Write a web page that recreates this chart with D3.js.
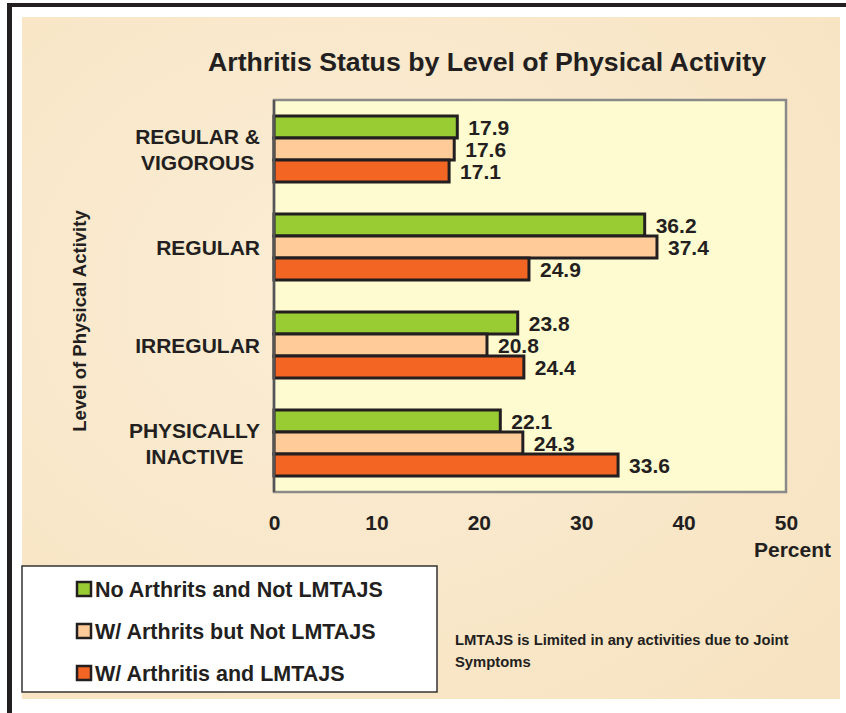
<!DOCTYPE html>
<html>
<head>
<meta charset="utf-8">
<script src="https://cdn.jsdelivr.net/npm/d3@7"></script>
<style>
  body { margin: 0; background: #fff; }
  text { font-family: "Liberation Sans", Arial, sans-serif; font-weight: bold; fill: #231f20; }
</style>
</head>
<body>
<script>
// chart data
var categories = [["REGULAR &", "VIGOROUS"], ["REGULAR"], ["IRREGULAR"], ["PHYSICALLY", "INACTIVE"]];
var series = ["No Arthrits and Not LMTAJS", "W/ Arthrits but Not LMTAJS", "W/ Arthritis and LMTAJS"];
var noArthritis = [17.9, 36.2, 23.8, 22.1];
var arthritisNotLimited = [17.6, 37.4, 20.8, 24.3];
var arthritisLimited = [17.1, 24.9, 24.4, 33.6];
var xTicks = [0, 10, 20, 30, 40, 50];
var colors = ["#99cc33", "#ffcc99", "#f26522"];

var w = 846, h = 713;
var plot = {left: 274, right: 786, top: 100, bottom: 492};

var svg = d3.select("body").append("svg")
	.attr("width", w)
	.attr("height", h);

// background
svg.append("rect").attr("x", 0).attr("y", 0).attr("width", w).attr("height", h).attr("fill", "#fff");
var defs = svg.append("defs");
var grad = defs.append("radialGradient").attr("id", "parch").attr("cx", "40%").attr("cy", "40%").attr("r", "80%");
grad.append("stop").attr("offset", "0%").attr("stop-color", "#fbedd5");
grad.append("stop").attr("offset", "100%").attr("stop-color", "#f7e3c1");
svg.append("rect")
	.attr("x", 22).attr("y", 17)
	.attr("width", 818).attr("height", 682)
	.attr("fill", "url(#parch)");

// black frame lines (top + left)
svg.append("rect").attr("x", 7).attr("y", 3).attr("width", w - 7).attr("height", 4).attr("fill", "#231f20");
svg.append("rect").attr("x", 7).attr("y", 3).attr("width", 5).attr("height", h - 3).attr("fill", "#231f20");

// title
svg.append("text")
	.attr("x", 208).attr("y", 71)
	.attr("textLength", 558)
	.attr("lengthAdjust", "spacingAndGlyphs")
	.style("font-size", "25px")
	.text("Arthritis Status by Level of Physical Activity");

// scales
var x_scale = d3.scaleLinear().domain([0, 50]).range([plot.left, plot.right]);
var y_scale = d3.scaleBand().domain(d3.range(categories.length)).range([plot.top, plot.bottom]);
var inner = d3.scaleBand().domain(d3.range(series.length)).range([16, y_scale.bandwidth() - 16]);

// plot area
svg.append("rect")
	.attr("x", plot.left).attr("y", plot.top)
	.attr("width", plot.right - plot.left).attr("height", plot.bottom - plot.top)
	.attr("fill", "#fffbd0")
	.attr("stroke", "#8a8a8a")
	.attr("stroke-width", 2.5);

var allSeries = [noArthritis, arthritisNotLimited, arthritisLimited];
var barData = [];
allSeries.forEach(function(vals, s) {
	vals.forEach(function(v, c) {
		barData.push({s: s, c: c, v: v});
	});
});

svg.selectAll("rect.bar")
	.data(barData)
	.enter()
	.append("rect")
	.attr("class", "bar")
	.attr("x", x_scale(0))
	.attr("y", function(d) { return y_scale(d.c) + inner(d.s); })
	.attr("width", function(d) { return x_scale(d.v) - x_scale(0); })
	.attr("height", inner.bandwidth())
	.attr("fill", function(d) { return colors[d.s]; })
	.attr("stroke", "#231f20")
	.attr("stroke-width", 3);

svg.selectAll("text.val")
	.data(barData)
	.enter()
	.append("text")
	.attr("class", "val")
	.attr("x", function(d) { return x_scale(d.v) + 11; })
	.attr("y", function(d) { return y_scale(d.c) + inner(d.s) + inner.bandwidth() / 2 + 8; })
	.style("font-size", "21px")
	.text(function(d) { return d.v.toFixed(1); });

// left axis line
svg.append("line")
	.attr("x1", plot.left).attr("x2", plot.left)
	.attr("y1", plot.top).attr("y2", plot.bottom)
	.attr("stroke", "#555").attr("stroke-width", 2.5);

// category labels: lines centred, block right-aligned
categories.forEach(function(lines, c) {
	var g = svg.append("g");
	var cy = y_scale(c) + y_scale.bandwidth() / 2;
	var texts = lines.map(function(l, i) {
		return g.append("text")
			.attr("y", cy + (i - (lines.length - 1) / 2) * 26 + 8)
			.attr("text-anchor", "middle")
			.style("font-size", "21px")
			.text(l);
	});
	var maxW = d3.max(texts, function(t) { return t.node().getComputedTextLength(); });
	texts.forEach(function(t) { t.attr("x", 260 - maxW / 2); });
});

// x axis labels
var x_axis = d3.axisBottom(x_scale).tickValues(xTicks).tickSize(0).tickPadding(0);
var ax = svg.append("g")
	.attr("transform", "translate(0," + (plot.bottom + 23) + ")")
	.call(x_axis);
ax.select(".domain").remove();
ax.selectAll("text")
	.attr("dy", "0.71em")
	.style("font-family", "'Liberation Sans', Arial, sans-serif")
	.style("font-weight", "bold")
	.style("font-size", "21px")
	.attr("fill", "#231f20");

svg.append("text")
	.attr("x", 831).attr("y", 557)
	.attr("text-anchor", "end")
	.style("font-size", "21px")
	.text("Percent");

// y axis title
svg.append("text")
	.attr("transform", "translate(86,321) rotate(-90)")
	.attr("text-anchor", "middle")
	.style("font-size", "18.5px")
	.text("Level of Physical Activity");

// legend
var legend = svg.append("g");
legend.append("rect")
	.attr("x", 22).attr("y", 566)
	.attr("width", 415).attr("height", 126)
	.attr("fill", "#fff")
	.attr("stroke", "#333")
	.attr("stroke-width", 1.5);
series.forEach(function(name, i) {
	var yy = 589 + i * 42;
	legend.append("rect")
		.attr("x", 77).attr("y", yy - 7)
		.attr("width", 14).attr("height", 14)
		.attr("fill", colors[i])
		.attr("stroke", "#231f20")
		.attr("stroke-width", 2.5);
	legend.append("text")
		.attr("x", 95).attr("y", yy + 8)
		.style("font-size", "21.5px")
		.text(name);
});

// note
svg.append("text")
	.attr("x", 455).attr("y", 645)
	.style("font-size", "14.8px")
	.text("LMTAJS is Limited in any activities due to Joint");
svg.append("text")
	.attr("x", 455).attr("y", 667)
	.style("font-size", "14.8px")
	.text("Symptoms");
</script>
</body>
</html>
